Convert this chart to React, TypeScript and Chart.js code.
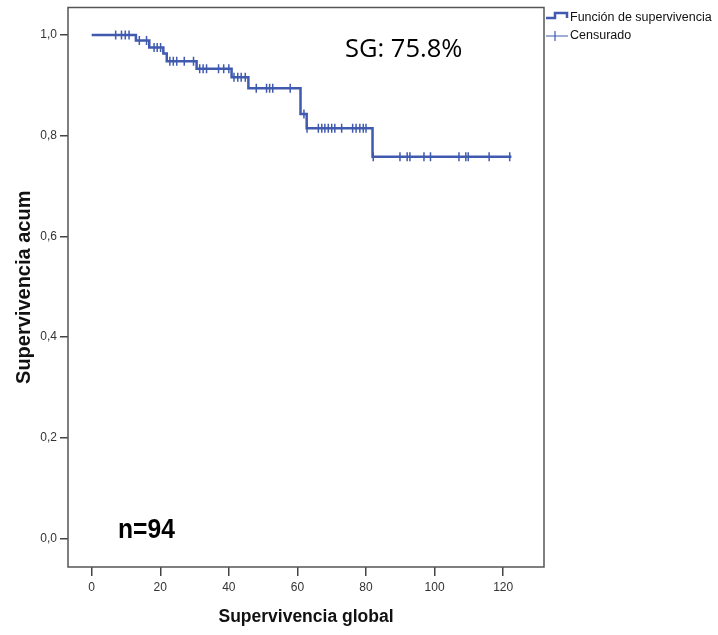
import React, { useEffect, useRef } from "react";
import { Chart, registerables } from "chart.js";

Chart.register(...registerables);

// Kaplan-Meier step curve: event times (months) and cumulative survival after each event
const eventTimes = [0, 12.9, 16.8, 20.9, 21.9, 30.6, 40.8, 45.7, 60.9, 62.7, 81.9, 122.4];
const survival = [1.0, 0.989, 0.975, 0.963, 0.948, 0.933, 0.916, 0.894, 0.843, 0.815, 0.758, 0.758];

// Censored observation times
const censoredTimes = [
  7, 8.7, 9.8, 10.9, 13.9, 16, 18.2, 19.1, 20.1, 22.8, 23.8, 24.8, 27, 29.7,
  31.5, 32.5, 33.5, 37, 38.5, 40, 41.5, 42.6, 43.6, 44.8, 48, 51, 51.9, 52.8, 57.9,
  61.9, 62.8, 66.1, 67.1, 68, 69, 70, 70.9, 72.9, 76.1, 77.1, 78.2, 79.2, 80,
  82.1, 89.9, 92, 92.8, 96.9, 98.8, 107.1, 109.1, 109.8, 115.9, 121.9,
];

const xTicks = [0, 20, 40, 60, 80, 100, 120];
const yTicks = [0, 0.2, 0.4, 0.6, 0.8, 1.0];

const xTitle = "Supervivencia global";
const yTitle = "Supervivencia acum";
const legendLabels = ["Función de supervivencia", "Censurado"];
const sgLabel = "SG: 75.8%";
const nLabel = "n=94";

const BLUE = "#3F5AAE";

function survivalAt(t: number): number {
  let s = survival[0];
  for (let i = 0; i < eventTimes.length; i++) {
    if (eventTimes[i] <= t) s = survival[i];
  }
  return s;
}

const overlayPlugin = {
  id: "overlay",
  afterDraw(chart: any) {
    const { ctx, chartArea } = chart;
    ctx.save();
    // frame
    ctx.strokeStyle = "#555";
    ctx.lineWidth = 1.5;
    ctx.strokeRect(chartArea.left, chartArea.top, chartArea.right - chartArea.left, chartArea.bottom - chartArea.top);

    // legend
    const lx = chartArea.right + 2;
    ctx.strokeStyle = BLUE;
    ctx.lineWidth = 2.5;
    ctx.beginPath();
    ctx.moveTo(lx, 18);
    ctx.lineTo(lx + 9, 18);
    ctx.lineTo(lx + 9, 13);
    ctx.lineTo(lx + 21, 13);
    ctx.lineTo(lx + 21, 18);
    ctx.stroke();
    ctx.lineWidth = 1.2;
    ctx.beginPath();
    ctx.moveTo(lx, 36);
    ctx.lineTo(lx + 22, 36);
    ctx.moveTo(lx + 9, 31);
    ctx.lineTo(lx + 9, 41);
    ctx.stroke();

    ctx.fillStyle = "#111";
    ctx.font = '12.5px "Liberation Sans", Arial, sans-serif';
    ctx.textBaseline = "middle";
    ctx.textAlign = "left";
    ctx.fillText(legendLabels[0], lx + 24, 18);
    ctx.fillText(legendLabels[1], lx + 24, 36);

    // annotations
    ctx.fillStyle = "#000";
    ctx.font = '25.5px "Open Sans", "Noto Sans", sans-serif';
    ctx.fillText(sgLabel, 345, 50);

    ctx.save();
    ctx.translate(118, 530);
    ctx.scale(0.88, 1);
    ctx.font = 'bold 28px "Liberation Sans", Arial, sans-serif';
    ctx.fillText(nLabel, 0, 0);
    ctx.restore();
    ctx.restore();
  },
};

export default function App() {
  const canvasRef = useRef<HTMLCanvasElement | null>(null);

  useEffect(() => {
    const canvas = canvasRef.current;
    if (!canvas) return;
    const kmPoints = eventTimes.map((t, i) => ({ x: t, y: survival[i] }));
    const censorPoints = censoredTimes.map((t) => ({ x: t, y: survivalAt(t) }));
    const tickFont = { family: '"Liberation Sans", Arial, sans-serif', size: 12 };

    const chart = new Chart(canvas, {
      type: "line",
      data: {
        datasets: [
          {
            type: "line",
            data: kmPoints,
            stepped: "before",
            borderColor: BLUE,
            borderWidth: 2.5,
            pointRadius: 0,
            fill: false,
          } as any,
          {
            type: "scatter",
            data: censorPoints,
            pointStyle: "line",
            rotation: 90,
            pointRadius: 4.5,
            borderColor: BLUE,
            borderWidth: 1.5,
            backgroundColor: BLUE,
          } as any,
        ],
      },
      options: {
        animation: false,
        responsive: false,
        maintainAspectRatio: false,
        layout: { padding: { left: 0, right: 174, top: 7.5, bottom: 0 } },
        plugins: { legend: { display: false }, tooltip: { enabled: false } },
        scales: {
          x: {
            type: "linear",
            min: -6.9,
            max: 131.9,
            afterBuildTicks: (s: any) => {
              s.ticks = xTicks.map((v) => ({ value: v }));
            },
            afterFit: (s: any) => {
              s.height = 68;
              s.paddingLeft = 0;
              s.paddingRight = 0;
            },
            ticks: { font: tickFont, color: "#333", padding: 4, maxRotation: 0, callback: (v: any) => String(v) },
            grid: { drawOnChartArea: false, drawTicks: true, tickLength: 9, color: "#444", lineWidth: 1.5 },
            border: { display: false },
            title: {
              display: true,
              text: xTitle,
              color: "#111",
              font: { family: '"Liberation Sans", Arial, sans-serif', size: 17.5, weight: "bold" },
              padding: { top: 0, bottom: 7 },
            },
          },
          y: {
            type: "linear",
            min: -0.0566,
            max: 1.0546,
            afterBuildTicks: (s: any) => {
              s.ticks = yTicks.map((v) => ({ value: v }));
            },
            afterFit: (s: any) => {
              s.width = 68;
              s.paddingTop = 0;
              s.paddingBottom = 0;
            },
            ticks: {
              font: tickFont,
              color: "#333",
              padding: 3,
              callback: (v: any) => Number(v).toFixed(1).replace(".", ","),
            },
            grid: { drawOnChartArea: false, drawTicks: true, tickLength: 8, color: "#444", lineWidth: 1.5 },
            border: { display: false },
            title: {
              display: true,
              text: yTitle,
              color: "#111",
              font: { family: '"Liberation Sans", Arial, sans-serif', size: 20, weight: "bold" },
              padding: { top: 12, bottom: 0 },
            },
          },
        },
      },
      plugins: [overlayPlugin],
    });
    return () => chart.destroy();
  }, []);

  return (
    <div style={{ position: "absolute", left: 0, top: 0, width: 718, height: 635, background: "#fff" }}>
      <canvas ref={canvasRef} width={718} height={635} style={{ width: 718, height: 635, display: "block" }} />
    </div>
  );
}
